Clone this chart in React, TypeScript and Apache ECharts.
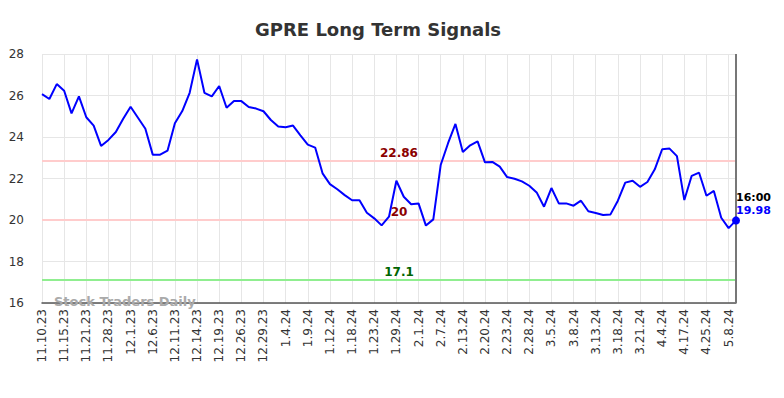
import React, { useEffect, useRef } from "react";
import * as echarts from "echarts";

const TITLE = "GPRE Long Term Signals";
const WATERMARK = "Stock Traders Daily";

const dates: string[] = [
  "11.10.23", "11.13.23", "11.14.23",
  "11.15.23", "11.16.23", "11.17.23",
  "11.21.23", "11.22.23", "11.24.23",
  "11.28.23", "11.29.23", "11.30.23",
  "12.1.23", "12.4.23", "12.5.23",
  "12.6.23", "12.7.23", "12.8.23",
  "12.11.23", "12.12.23", "12.13.23",
  "12.14.23", "12.15.23", "12.18.23",
  "12.19.23", "12.20.23", "12.21.23",
  "12.26.23", "12.27.23", "12.28.23",
  "12.29.23", "1.2.24", "1.3.24",
  "1.4.24", "1.5.24", "1.8.24",
  "1.9.24", "1.10.24", "1.11.24",
  "1.12.24", "1.16.24", "1.17.24",
  "1.18.24", "1.19.24", "1.22.24",
  "1.23.24", "1.24.24", "1.26.24",
  "1.29.24", "1.30.24", "1.31.24",
  "2.1.24", "2.5.24", "2.6.24",
  "2.7.24", "2.9.24", "2.12.24",
  "2.13.24", "2.15.24", "2.16.24",
  "2.20.24", "2.21.24", "2.22.24",
  "2.23.24", "2.26.24", "2.27.24",
  "2.28.24", "3.1.24", "3.4.24",
  "3.5.24", "3.6.24", "3.7.24",
  "3.8.24", "3.11.24", "3.12.24",
  "3.13.24", "3.14.24", "3.15.24",
  "3.18.24", "3.19.24", "3.20.24",
  "3.21.24", "3.26.24", "4.1.24",
  "4.4.24", "4.9.24", "4.12.24",
  "4.17.24", "4.19.24", "4.23.24",
  "4.25.24", "4.30.24", "5.3.24",
  "5.8.24", "5.9.24",
];

const prices: number[] = [
  26.07, 25.83, 26.55, 26.23, 25.14, 25.96, 24.95, 24.55, 23.57, 23.86,
  24.24, 24.88, 25.46, 24.93, 24.4, 23.15, 23.15, 23.34, 24.66, 25.25,
  26.13, 27.74, 26.13, 25.96, 26.46, 25.41, 25.73, 25.73, 25.45, 25.37,
  25.24, 24.82, 24.51, 24.47, 24.55, 24.08, 23.63, 23.49, 22.25, 21.73,
  21.48, 21.2, 20.95, 20.95, 20.35, 20.08, 19.74, 20.16, 21.89, 21.12,
  20.76, 20.8, 19.73, 20.03, 22.65, 23.7, 24.63, 23.28, 23.6, 23.79,
  22.78, 22.8, 22.57, 22.07, 21.99, 21.86, 21.65, 21.33, 20.64, 21.54,
  20.8, 20.8, 20.69, 20.93, 20.42, 20.34, 20.24, 20.27, 20.93, 21.8,
  21.89, 21.6, 21.83, 22.44, 23.41, 23.44, 23.08, 20.96, 22.13, 22.28,
  21.17, 21.4, 20.11, 19.61, 19.98,
];

const upperSignal = 22.86;
const midSignal = 20;
const lowerSignal = 17.1;
const lastTimeLabel = "16:00";

const yMin = 16;
const yMax = 28;
const yStep = 2;

export default function App() {
  const ref = useRef<HTMLDivElement>(null);

  useEffect(() => {
    if (!ref.current) return;
    const chart = echarts.init(ref.current, null, { renderer: "svg" });
    const lastIdx = prices.length - 1;
    const lastVal = prices[lastIdx];
    const font = "DejaVu Sans";

    const sigLabel = (text: string, color: string) => ({
      show: true,
      position: "middle",
      formatter: text,
      color,
      fontFamily: font,
      fontSize: 12,
      fontWeight: "bold",
      distance: 2,
      offset: [10, 0],
    });

    chart.setOption({
      animation: false,
      title: {
        text: TITLE,
        left: 250,
        top: 15,
        textStyle: { fontFamily: font, fontSize: 18, fontWeight: "bold", color: "#333" },
      },
      grid: { left: 42, right: 48, top: 54, bottom: 95, containLabel: false },
      xAxis: {
        type: "category",
        data: dates,
        boundaryGap: false,
        axisLine: { lineStyle: { color: "#555", width: 1.5 } },
        axisTick: { show: false },
        axisLabel: {
          interval: 2,
          rotate: 90,
          margin: 6,
          fontFamily: font,
          fontSize: 12,
          color: "#333",
        },
        splitLine: { show: true, interval: 2, lineStyle: { color: "#e6e6e6", width: 1 } },
      },
      yAxis: {
        type: "value",
        min: yMin,
        max: yMax,
        interval: yStep,
        axisLine: { show: false },
        axisTick: { show: false },
        axisLabel: { fontFamily: font, fontSize: 12, color: "#333", margin: 18 },
        splitLine: { show: true, lineStyle: { color: "#e6e6e6", width: 1 } },
      },
      graphic: [
        {
          type: "text",
          left: 54,
          top: 295,
          z: 100,
          style: {
            text: WATERMARK,
            fill: "#aaa",
            font: "bold 13px DejaVu Sans",
          },
        },
      ],
      series: [
        {
          type: "line",
          data: prices,
          symbol: "none",
          lineStyle: { color: "#0000ff", width: 2 },
          z: 5,
          markLine: {
            silent: true,
            symbol: "none",
            animation: false,
            data: [
              {
                yAxis: upperSignal,
                lineStyle: { color: "#ffcccc", width: 2, type: "solid" },
                label: sigLabel(String(upperSignal), "#8b0000"),
              },
              {
                yAxis: midSignal,
                lineStyle: { color: "#ffcccc", width: 2, type: "solid" },
                label: sigLabel(String(midSignal), "#8b0000"),
              },
              {
                yAxis: lowerSignal,
                lineStyle: { color: "#90ee90", width: 2, type: "solid" },
                label: sigLabel(String(lowerSignal), "#006400"),
              },
              {
                xAxis: lastIdx,
                lineStyle: { color: "#777", width: 2, type: "solid" },
                label: { show: false },
              },
            ],
          },
          markPoint: {
            silent: true,
            animation: false,
            data: [
              {
                coord: [lastIdx, lastVal],
                symbol: "circle",
                symbolSize: 8,
                itemStyle: { color: "#0000ff" },
                label: {
                  show: true,
                  position: [4, -25],
                  align: "left",
                  verticalAlign: "top",
                  formatter: `{a|${lastTimeLabel}}\n{b|${lastVal.toFixed(2)}}`,
                  rich: {
                    a: { fontFamily: font, fontSize: 11, fontWeight: "bold", color: "#000", lineHeight: 13 },
                    b: { fontFamily: font, fontSize: 11, fontWeight: "bold", color: "#0000ff", lineHeight: 13 },
                  },
                },
              },
            ],
          },
        },
      ],
    });

    return () => chart.dispose();
  }, []);

  return (
    <div
      ref={ref}
      style={{ position: "absolute", left: 0, top: 0, width: 784, height: 398 }}
    />
  );
}
